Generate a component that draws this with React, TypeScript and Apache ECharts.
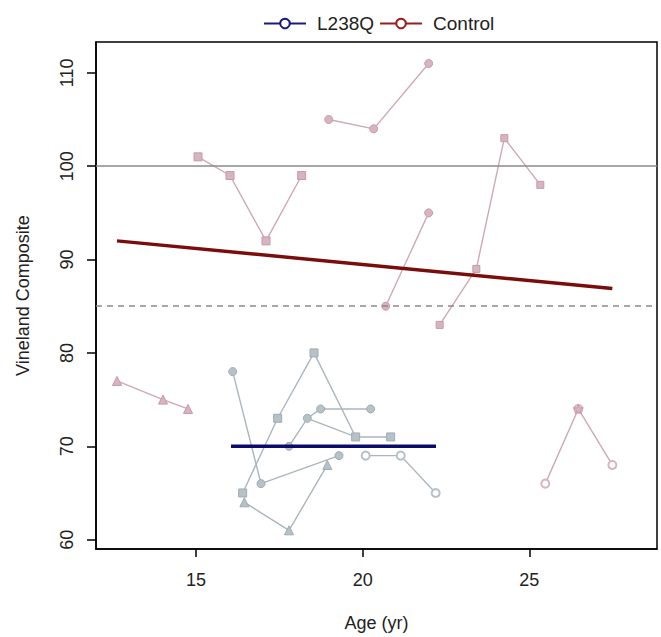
import React, { useEffect, useRef } from "react";
import * as echarts from "echarts";

// ---- data ----
const xTicks = [15, 20, 25];
const yTicks = [60, 70, 80, 90, 100, 110];

// L238Q subjects: [age, score]
const l238qS1 = [[16.1, 78], [16.95, 66], [19.29, 69]];
const l238qS2 = [[16.45, 64], [17.79, 61], [18.94, 68]];
const l238qS3 = [[16.4, 65], [17.45, 73], [18.54, 80], [19.79, 71], [20.84, 71]];
const l238qS4 = [[17.79, 70], [18.34, 73], [18.74, 74], [20.24, 74]];
const l238qS4b = [[18.34, 73], [19.79, 71]];
const l238qS5 = [[20.09, 69], [21.14, 69], [22.19, 65]];
const l238qMean = [[16.05, 70], [22.2, 70]];

// Control subjects
const ctrlC1 = [[12.63, 77], [14.01, 75], [14.76, 74]];
const ctrlC2 = [[15.06, 101], [16.02, 99], [17.1, 92], [18.17, 99]];
const ctrlC3 = [[18.98, 105], [20.33, 104], [21.98, 111]];
const ctrlC4 = [[20.69, 85], [21.98, 95]];
const ctrlC5 = [[22.31, 83], [23.41, 89], [24.25, 103], [25.33, 98]];
const ctrlC6 = [[25.48, 66], [26.47, 74], [27.49, 68]];
const ctrlFit = [[12.63, 92.0], [27.49, 86.9]];

const refSolid = 100;
const refDashed = 85;

const STAR =
  "path://M50,0 L61,35 L98,35 L68,57 L79,91 L50,70 L21,91 L32,57 L2,35 L39,35 Z";

export default function App() {
  const ref = useRef<HTMLDivElement>(null);
  useEffect(() => {
    if (!ref.current) return;
    const chart = echarts.init(ref.current, undefined, { renderer: "svg" });
    const font = "Liberation Sans";
    const blueLine = "#aab6bd";
    const blueFill = "#b7c2c8";
    const pinkLine = "#d0a8b5";
    const pinkFill = "#d8b3c0";

    const subj = (data: number[][], kind: "b" | "p", symbol: string, size = 8) => ({
      type: "line",
      data,
      symbol,
      symbolSize: size,
      showSymbol: true,
      lineStyle: { color: kind === "b" ? blueLine : pinkLine, width: 1.4 },
      itemStyle: {
        color: kind === "b" ? blueFill : pinkFill,
        borderColor: kind === "b" ? "#9eabb3" : "#c69aaa",
        borderWidth: 1,
      },
      z: 2,
      silent: true,
    });

    const option: any = {
      animation: false,
      backgroundColor: "#ffffff",
      textStyle: { fontFamily: font },
      legend: {
        data: ["L238Q", "Control"],
        top: 9,
        left: 258,
        itemWidth: 42,
        itemHeight: 12,
        itemGap: 5,
        textStyle: {
          fontSize: 19,
          color: "#222",
          fontFamily: font,
          padding: [0, 0, 0, 6],
        },
      },
      grid: {
        left: 96,
        right: 4,
        top: 42,
        bottom: 87,
        show: true,
        borderColor: "#000",
        borderWidth: 1.5,
      },
      xAxis: {
        type: "value",
        min: 12.0,
        max: 28.83,
        name: "Age (yr)",
        nameLocation: "middle",
        nameGap: 65,
        nameTextStyle: { fontSize: 18, color: "#222", fontFamily: font },
        axisLine: { show: true, lineStyle: { color: "#000", width: 1.5 } },
        axisTick: {
          show: true,
          inside: false,
          length: 8,
          customValues: xTicks,
          lineStyle: { color: "#000", width: 1.5 },
        },
        axisLabel: {
          customValues: xTicks,
          fontSize: 18,
          color: "#222",
          margin: 22,
          fontFamily: font,
        },
        splitLine: { show: false },
      },
      yAxis: {
        type: "value",
        min: 59.0,
        max: 113.3,
        name: "Vineland Composite",
        nameLocation: "middle",
        nameGap: 64,
        nameTextStyle: { fontSize: 18, color: "#222", fontFamily: font },
        axisLine: { show: true, lineStyle: { color: "#000", width: 1.5 } },
        axisTick: {
          show: true,
          inside: false,
          length: 9,
          customValues: yTicks,
          lineStyle: { color: "#000", width: 1.5 },
        },
        axisLabel: {
          customValues: yTicks,
          rotate: 90,
          fontSize: 18,
          color: "#222",
          margin: 29,
          fontFamily: font,
          verticalAlign: "middle",
          align: "center",
        },
        splitLine: { show: false },
      },
      series: [
        {
          name: "L238Q",
          type: "line",
          data: [],
          symbol: "emptyCircle",
          symbolSize: 8,
          lineStyle: { color: "#1a1a80", width: 2 },
          itemStyle: { color: "#1a1a80" },
        },
        {
          name: "Control",
          type: "line",
          data: [],
          symbol: "emptyCircle",
          symbolSize: 8,
          lineStyle: { color: "#9a1c1c", width: 2 },
          itemStyle: { color: "#9a1c1c" },
        },
        {
          type: "line",
          data: [],
          silent: true,
          markLine: {
            symbol: "none",
            silent: true,
            label: { show: false },
            data: [
              { yAxis: refSolid, lineStyle: { color: "#8a8a8a", width: 1.5, type: "solid" } },
              { yAxis: refDashed, lineStyle: { color: "#8a8a8a", width: 1.5, type: [6, 5] } },
            ],
          },
        },
        subj(ctrlC1, "p", "triangle", 9),
        subj(ctrlC2, "p", "rect", 8),
        subj(ctrlC3, "p", "circle", 8),
        subj(ctrlC4, "p", "circle", 8),
        subj(ctrlC5, "p", "rect", 7),
        subj(ctrlC6, "p", "emptyCircle", 8),
        { ...subj([ctrlC6[1]], "p", STAR, 10), lineStyle: { width: 0 } },
        subj(l238qS1, "b", "circle", 8),
        subj(l238qS2, "b", "triangle", 9),
        subj(l238qS3, "b", "rect", 8),
        subj(l238qS4, "b", "circle", 8),
        { ...subj(l238qS4b, "b", "none", 1) },
        subj(l238qS5, "b", "emptyCircle", 8),
        {
          type: "line",
          data: l238qMean,
          symbol: "none",
          lineStyle: { color: "#0b0b6e", width: 3.5 },
          z: 5,
          silent: true,
        },
        {
          type: "line",
          data: ctrlFit,
          symbol: "none",
          lineStyle: { color: "#7a0c0c", width: 3.5 },
          z: 5,
          silent: true,
        },
      ],
    };
    chart.setOption(option);
    return () => chart.dispose();
  }, []);
  return (
    <div
      ref={ref}
      style={{ position: "fixed", left: 0, top: 0, width: 661, height: 637 }}
    />
  );
}
